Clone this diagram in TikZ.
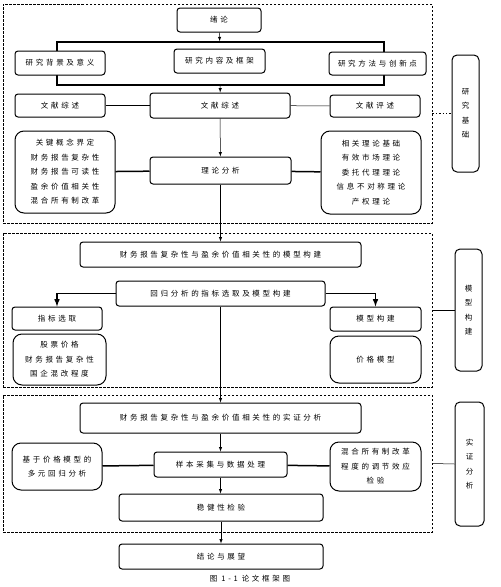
\documentclass[tikz,border=0pt]{standalone}
\usepackage{fontspec}
\newfontfamily\cjk[LetterSpace=36]{Noto Sans CJK SC}
\usetikzlibrary{arrows}

\tikzset{
	base/.style={font={\cjk\fontsize{7.5}{14.5}\selectfont},align=center,inner sep=0pt},
	box/.style={base,draw,line width=1pt,rounded corners=3pt,fill=white},
	bigbox/.style={box,rounded corners=9pt},
	sidebox/.style={box,rounded corners=5pt},
	dashbox/.style={draw,dashed,dash pattern=on 2.5pt off 1.5pt,line width=0.9pt,inner sep=0pt},
	thinline/.style={line width=0.5pt},
	thickline/.style={line width=1.5pt}
}

\begin{document}
\begin{tikzpicture}[x=1pt,y=-1pt,>=latex]
	\useasboundingbox (0,0) rectangle (501,587);
	
	% dashed parts
	\node[dashbox,minimum width=429,minimum height=219] (part1) at (217.5,113.5) {};
	\node[dashbox,minimum width=429,minimum height=154] (part2) at (217.5,310) {};
	\node[dashbox,minimum width=429,minimum height=137] (part3) at (217.5,463.5) {};
	
	% side labels
	\node[sidebox,minimum width=27,minimum height=117] (jichu) at (465.5,113.5) {研\\究\\基\\础};
	\node[sidebox,minimum width=27,minimum height=122] (goujian) at (468.5,310) {模\\型\\构\\建};
	\node[sidebox,minimum width=29,minimum height=124] (shizheng) at (469.5,464) {实\\证\\分\\析};
	
	\draw[dotted,line width=1.4pt] (part1.east) -- (jichu.west);
	\draw[thinline] (part2.east) -- (goujian.west);
	\draw[thinline] (part3.east) -- (shizheng.west);
	
	% part 1
	\node[box,minimum width=84,minimum height=24] (xulun) at (219,20) {绪论};
	\node[draw,thickline,minimum width=327,minimum height=43,inner sep=0pt] (group) at (220.5,63.5) {};
	\node[box,minimum width=90,minimum height=24] (beijing) at (60,63) {研究背景及意义};
	\node[box,minimum width=91,minimum height=24] (neirong) at (219.5,61) {研究内容及框架};
	\node[box,minimum width=97,minimum height=23] (fangfa) at (377.5,63.5) {研究方法与创新点};
	
	\node[box,minimum width=90,minimum height=23] (wenxianA) at (60,105.5) {文献综述};
	\node[box,minimum width=140,minimum height=25] (wenxianB) at (220,105.5) {文献综述};
	\node[box,minimum width=90,minimum height=22] (pingshu) at (375,106) {文献评述};
	
	\node[bigbox,minimum width=100,minimum height=82] (gainian) at (65,172) {关键概念界定\\财务报告复杂性\\财务报告可读性\\盈余价值相关性\\混合所有制改革};
	\node[box,minimum width=141,minimum height=27] (lilun) at (220.5,170.5) {理论分析};
	\node[bigbox,minimum width=100,minimum height=83] (jichulilun) at (371,172.5) {相关理论基础\\有效市场理论\\委托代理理论\\信息不对称理论\\产权理论};
	
	\draw[->,thinline] (xulun) -- (group);
	\draw[->,thinline] (group) -- (wenxianB);
	\draw[thinline] (wenxianA) -- (wenxianB);
	\draw[thinline] (wenxianB) -- (pingshu);
	\draw[->,thinline] (wenxianB) -- (lilun);
	\draw[thickline] (gainian) -- (lilun);
	\draw[thickline] (lilun) -- (jichulilun);
	
	% part 2
	\node[box,minimum width=281,minimum height=25] (moxing) at (220.5,254.5) {财务报告复杂性与盈余价值相关性的模型构建};
	\node[box,minimum width=209,minimum height=25] (huigui) at (220.5,293.5) {回归分析的指标选取及模型构建};
	\node[box,minimum width=90,minimum height=23] (zhibiao) at (57,318.5) {指标选取};
	\node[bigbox,minimum width=93,minimum height=51] (gupiao) at (59.5,359.5) {股票价格\\财务报告复杂性\\国企混改程度};
	\node[box,minimum width=91,minimum height=24] (mxgj) at (375.5,319) {模型构建};
	\node[bigbox,minimum width=91,minimum height=47] (jiage) at (375.5,359.5) {价格模型};
	
	\draw[->,thinline] (lilun) -- (moxing);
	\draw[->,thickline] (huigui.west) -| (zhibiao.north);
	\draw[->,thickline] (huigui.east) -| (mxgj.north);
	
	% part 3
	\node[box,minimum width=281,minimum height=30] (shizhengfx) at (220.5,418) {财务报告复杂性与盈余价值相关性的实证分析};
	\node[box,minimum width=133,minimum height=25] (yangben) at (220.5,464.5) {样本采集与数据处理};
	\node[bigbox,minimum width=90,minimum height=47] (duoyuan) at (57,466.5) {基于价格模型的\\多元回归分析};
	\node[bigbox,minimum width=91,minimum height=49] (tiaojie) at (375.5,466.5) {混合所有制改革\\程度的调节效应\\检验};
	\node[box,minimum width=204,minimum height=27] (wenjian) at (221,507.5) {稳健性检验};
	\node[box,minimum width=204,minimum height=25] (jielun) at (221,556.5) {结论与展望};
	
	\draw[->,thinline] (huigui.south) -- (huigui.south |- shizhengfx.north);
	\draw[->,thinline] (shizhengfx.south) -- (shizhengfx.south |- yangben.north);
	\draw[thickline] (duoyuan) -- (yangben);
	\draw[thickline] (yangben) -- (tiaojie);
	\draw[->,thinline] (yangben.south) -- (yangben.south |- wenjian.north);
	\draw[->,thinline] (wenjian.south) -- (wenjian.south |- jielun.north);
	
	\node[base] (caption) at (250,579) {图\hspace{4pt}1-1\hspace{4pt}论文框架图};
\end{tikzpicture}
\end{document}
